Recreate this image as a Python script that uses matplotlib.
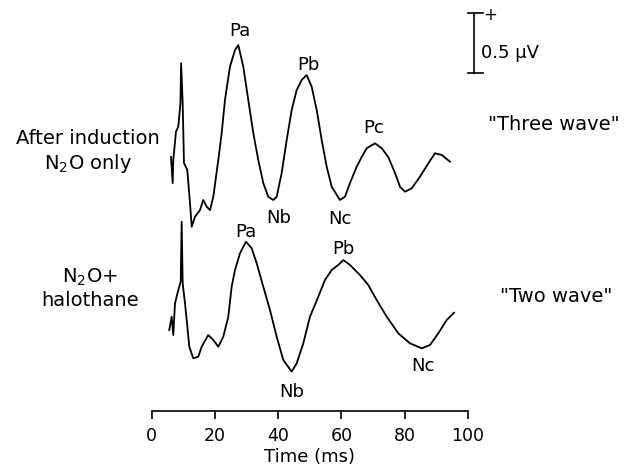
import numpy as np
import matplotlib
matplotlib.use("Agg")
import matplotlib.pyplot as plt

plt.rcParams['font.family'] = ['DejaVu Sans']
plt.rcParams['mathtext.default'] = 'regular'

# time (ms) and amplitude (uV, relative to trace start)
t_three = [6.10, 6.64, 6.83, 7.68, 8.41, 9.10, 9.30, 9.80, 10.21, 11.26, 12.11, 12.65,
           13.69, 15.27, 16.31, 17.39, 18.45, 19.48, 21.06, 22.13, 23.17, 24.75, 26.35,
           27.38, 28.96, 30.54, 32.12, 33.70, 35.28, 36.86, 38.44, 39.52, 41.10, 42.68,
           44.26, 45.84, 47.42, 49.00, 50.58, 52.17, 53.75, 55.33, 56.91, 59.53, 61.11,
           62.69, 64.81, 66.39, 67.97, 70.60, 72.72, 74.80, 76.92, 78.50, 80.08, 82.20,
           84.82, 87.45, 89.57, 91.69, 94.31]
v_three = [0.0, -0.217, -0.025, 0.211, 0.253, 0.45, 0.781, 0.45, -0.05, -0.108, -0.383,
           -0.581, -0.498, -0.442, -0.358, -0.414, -0.442, -0.331, -0.025, 0.20, 0.475,
           0.753, 0.892, 0.933, 0.753, 0.475, 0.20, -0.025, -0.217, -0.331, -0.358,
           -0.331, -0.133, 0.142, 0.392, 0.558, 0.642, 0.683, 0.586, 0.392, 0.142,
           -0.081, -0.248, -0.358, -0.331, -0.217, -0.081, 0.0, 0.073, 0.114, 0.073,
           0.0, -0.133, -0.248, -0.289, -0.261, -0.164, -0.053, 0.031, 0.017, -0.039]

t_two = [5.56, 6.32, 6.83, 7.37, 8.41, 9.17, 9.48, 9.80, 10.53, 11.07, 11.89, 13.15,
         14.73, 15.81, 17.89, 19.48, 21.06, 22.64, 24.22, 25.29, 26.34, 27.92, 29.81,
         31.62, 33.20, 35.28, 37.40, 39.52, 41.61, 44.26, 45.84, 47.93, 50.05, 52.67,
         54.79, 56.91, 58.99, 60.58, 62.69, 65.85, 68.48, 71.13, 74.30, 77.96, 81.66,
         85.36, 87.99, 90.61, 93.27, 95.57]
v_two = [0.0, 0.111, -0.042, 0.2225, 0.333, 0.4025, 0.9025, 0.389, 0.2225, 0.083,
         -0.139, -0.236, -0.2225, -0.139, -0.042, -0.083, -0.139, -0.056, 0.111, 0.361,
         0.5, 0.639, 0.736, 0.681, 0.556, 0.361, 0.167, -0.056, -0.25, -0.3475, -0.2775,
         -0.111, 0.111, 0.2775, 0.417, 0.5, 0.542, 0.583, 0.542, 0.458, 0.375, 0.25,
         0.111, -0.0275, -0.111, -0.1525, -0.125, -0.0275, 0.083, 0.144]

# peak labels: name, latency (ms), text offset (points)
peaks_three = [("Pa", 27.4, 1, 10), ("Pb", 49.0, 1, 7), ("Pc", 70.6, -1, 11),
               ("Nb", 38.4, 4, -13), ("Nc", 59.5, 0, -14)]
peaks_two = [("Pa", 29.8, 0, 7), ("Pb", 60.6, 0, 8), ("Nb", 44.3, 0, -15),
             ("Nc", 85.4, 1, -13)]

xticks = [0, 20, 40, 60, 80, 100]
off_three = 2.114
off_two = 0.6725

fig = plt.figure(figsize=(6.32, 4.73), dpi=100)
ax = fig.add_axes([0.240, 0.1317, 0.5005, 0.8683])

ax.plot(np.array(t_three), np.array(v_three) + off_three, color="black", lw=1.3)
ax.plot(np.array(t_two), np.array(v_two) + off_two, color="black", lw=1.3)

for name, t, dx, dy in peaks_three:
    y = np.interp(t, t_three, v_three) + off_three
    ax.annotate(name, (t, y), xytext=(dx, dy), textcoords="offset points",
                ha="center", va="center", fontsize=13)
for name, t, dx, dy in peaks_two:
    y = np.interp(t, t_two, v_two) + off_two
    ax.annotate(name, (t, y), xytext=(dx, dy), textcoords="offset points",
                ha="center", va="center", fontsize=13)

# calibration bar, 0.5 uV
bx = 101.9
ax.plot([bx, bx], [2.817, 3.317], color="black", lw=1.2, clip_on=False)
ax.plot([bx - 1.9, bx + 2.7], [2.817, 2.817], color="black", lw=1.2, clip_on=False)
ax.plot([bx - 1.9, bx + 2.7], [3.317, 3.317], color="black", lw=1.2, clip_on=False)
ax.text(bx + 5.2, 3.30, "+", fontsize=12, ha="center", va="center", clip_on=False)
ax.text(bx + 2.2, 2.98, "0.5 \u00b5V", fontsize=13, ha="left", va="center")

ax.set_xlim(0, 100)
ax.set_ylim(0, 3.4225)
ax.set_xticks(xticks)
ax.tick_params(axis="x", direction="out", length=6, width=1.2, labelsize=12.5, pad=6)
ax.set_yticks([])
for s in ["top", "right", "left"]:
    ax.spines[s].set_visible(False)
ax.spines["bottom"].set_linewidth(1.2)
ax.set_xlabel("Time (ms)", fontsize=13, labelpad=2)

fig.text(88 / 632, 1 - 152 / 473, "After induction\nN$_2$O only", ha="center", va="center",
         fontsize=14, linespacing=1.2)
fig.text(90 / 632, 1 - 288 / 473, "N$_2$O+\nhalothane", ha="center", va="center",
         fontsize=14, linespacing=1.2)
fig.text(554 / 632, 1 - 125 / 473, "\"Three wave\"", ha="center", va="center", fontsize=14)
fig.text(556 / 632, 1 - 297 / 473, "\"Two wave\"", ha="center", va="center", fontsize=14)

fig.savefig("out.png", dpi=100)
plt.close(fig)
